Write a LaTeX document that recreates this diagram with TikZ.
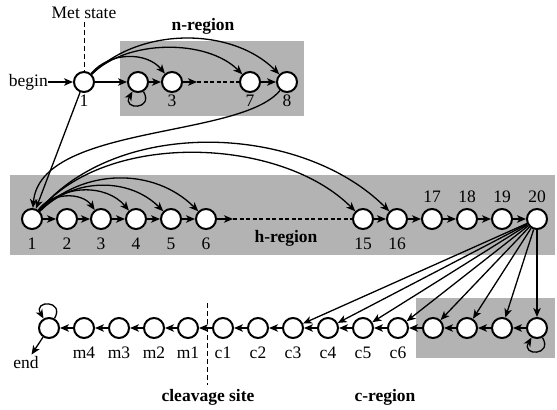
\documentclass[tikz,border=0pt]{standalone}
\usepackage{fontspec}
\setmainfont{Liberation Serif}
\usetikzlibrary{arrows.meta}
\definecolor{regiongray}{RGB}{179,179,179}

\begin{document}
\begin{tikzpicture}[x = 1bp, y = 1bp,
  font = \fontsize{17.5bp}{20bp}\selectfont,
  hmmstate/.style = {circle, draw, fill = white, line width = 2bp, minimum size = 20bp, inner sep = 0pt},
  trans/.style = {-{Stealth[length = 9bp, width = 7.5bp, inset = 2.5bp]}, line width = 1.3bp},
  gapline/.style = {line width = 1.3bp, dash pattern = on 4bp off 2.5bp},
  siteline/.style = {line width = .8bp, dash pattern = on 5bp off 3bp},
  lt/.style = {label = {[label distance = 2bp, inner sep = 0pt]below:#1}},
  lb/.style = {label = {[label distance = 8bp, inner sep = 0pt]below:#1}},
  la/.style = {label = {[label distance = 5bp, inner sep = 0pt]above:#1}}]
\useasboundingbox (0,0) rectangle (557,409);
% shaded regions
\fill[regiongray] (120,293) rectangle (304,368);
\fill[regiongray] (10,154) rectangle (555,234);
\fill[regiongray] (416,51) rectangle (555,111);
% n-region
\node (met) at (84,396) {Met state};
\node (nreg) at (203,383) {\bfseries n-region};
\node[anchor = east, inner sep = 0pt] (begintxt) at (48,327) {begin};
\node[hmmstate, lt = 1] (t1) at (84,327) {};
\node[hmmstate] (t2) at (138,327) {};
\node[hmmstate, lt = 3] (t3) at (172,327) {};
\node[hmmstate, lt = 7] (t7) at (250,327) {};
\node[hmmstate, lt = 8] (t8) at (287,327) {};
\coordinate (tgap) at (197,327);
\draw[siteline] (met.south) -- (t1.north);
\draw[trans] (begintxt) -- (t1);
\draw[trans] (t1) -- (t2);
\draw[trans] (t2) -- (t3);
\draw[trans] (t3) -- (tgap);
\draw[gapline] (tgap) -- (t7);
\draw[trans] (t7) -- (t8);
\draw[trans] (t2) to[out = -60, in = -120, looseness = 5] (t2);
\draw[trans] (t1) to[out = 50, in = 130] (t3);
\draw[trans] (t1) to[out = 45, in = 135, looseness = .85] (t7);
\draw[trans] (t1) to[out = 45, in = 135, looseness = .92] (t8);
% h-region
\node (hreg) at (286,171) {\bfseries h-region};
\node[hmmstate, lb = 1] (h1) at (32,190) {};
\node[hmmstate, lb = 2] (h2) at (67,190) {};
\node[hmmstate, lb = 3] (h3) at (101,190) {};
\node[hmmstate, lb = 4] (h4) at (136,190) {};
\node[hmmstate, lb = 5] (h5) at (171,190) {};
\node[hmmstate, lb = 6] (h6) at (206,190) {};
\node[hmmstate, lb = 15] (h15) at (363,190) {};
\node[hmmstate, lb = 16] (h16) at (397,190) {};
\node[hmmstate, la = 17] (h17) at (432,190) {};
\node[hmmstate, la = 18] (h18) at (467,190) {};
\node[hmmstate, la = 19] (h19) at (502,190) {};
\node[hmmstate, la = 20] (h20) at (537,190) {};
\coordinate (hgap) at (233,190);
\draw[trans] (t1) -- (h1);
\draw[trans] (t8) .. controls (240,270) and (40,285) .. (h1);
\draw[trans] (h1) -- (h2);
\draw[trans] (h2) -- (h3);
\draw[trans] (h3) -- (h4);
\draw[trans] (h4) -- (h5);
\draw[trans] (h5) -- (h6);
\draw[trans] (h6) -- (hgap);
\draw[gapline] (hgap) -- (h15);
\draw[trans] (h15) -- (h16);
\draw[trans] (h16) -- (h17);
\draw[trans] (h17) -- (h18);
\draw[trans] (h18) -- (h19);
\draw[trans] (h19) -- (h20);
\draw[trans] (h1) to[out = 55, in = 125] (h3);
\draw[trans] (h1) to[out = 50, in = 130] (h4);
\draw[trans] (h1) to[out = 45, in = 135] (h5);
\draw[trans] (h1) to[out = 45, in = 135] (h6);
\draw[trans] (h1) to[out = 50, in = 135, looseness = .85] (h15);
\draw[trans] (h1) to[out = 50, in = 135, looseness = .9] (h16);
% c-region and cleavage site
\node (cleave) at (208,12) {\bfseries cleavage site};
\node (creg) at (385,12) {\bfseries c-region};
\node[inner sep = 2bp] (endtxt) at (26,46) {end};
\node[hmmstate] (e) at (49,81) {};
\node[hmmstate, lb = m4] (m4) at (84,81) {};
\node[hmmstate, lb = m3] (m3) at (119,81) {};
\node[hmmstate, lb = m2] (m2) at (154,81) {};
\node[hmmstate, lb = m1] (m1) at (188,81) {};
\node[hmmstate, lb = c1] (c1) at (223,81) {};
\node[hmmstate, lb = c2] (c2) at (258,81) {};
\node[hmmstate, lb = c3] (c3) at (293,81) {};
\node[hmmstate, lb = c4] (c4) at (328,81) {};
\node[hmmstate, lb = c5] (c5) at (363,81) {};
\node[hmmstate, lb = c6] (c6) at (398,81) {};
\node[hmmstate] (g1) at (433,81) {};
\node[hmmstate] (g2) at (467,81) {};
\node[hmmstate] (g3) at (502,81) {};
\node[hmmstate] (g4) at (537,81) {};
\coordinate (cleavetop) at (207,106);
\draw[siteline] (cleavetop) -- (cleavetop |- cleave.north);
\draw[trans] (g4) -- (g3);
\draw[trans] (g3) -- (g2);
\draw[trans] (g2) -- (g1);
\draw[trans] (g1) -- (c6);
\draw[trans] (c6) -- (c5);
\draw[trans] (c5) -- (c4);
\draw[trans] (c4) -- (c3);
\draw[trans] (c3) -- (c2);
\draw[trans] (c2) -- (c1);
\draw[trans] (c1) -- (m1);
\draw[trans] (m1) -- (m2);
\draw[trans] (m2) -- (m3);
\draw[trans] (m3) -- (m4);
\draw[trans] (m4) -- (e);
\draw[trans] (e) -- (endtxt);
\draw[trans] (e) to[out = 60, in = 120, looseness = 5] (e);
\draw[trans] (g4) to[out = -60, in = -120, looseness = 5] (g4);
\draw[trans] (h20) -- (c3);
\draw[trans] (h20) -- (c4);
\draw[trans] (h20) -- (c5);
\draw[trans] (h20) -- (c6);
\draw[trans] (h20) -- (g1);
\draw[trans] (h20) -- (g2);
\draw[trans] (h20) -- (g3);
\draw[trans] (h20) -- (g4);
\end{tikzpicture}
\end{document}
